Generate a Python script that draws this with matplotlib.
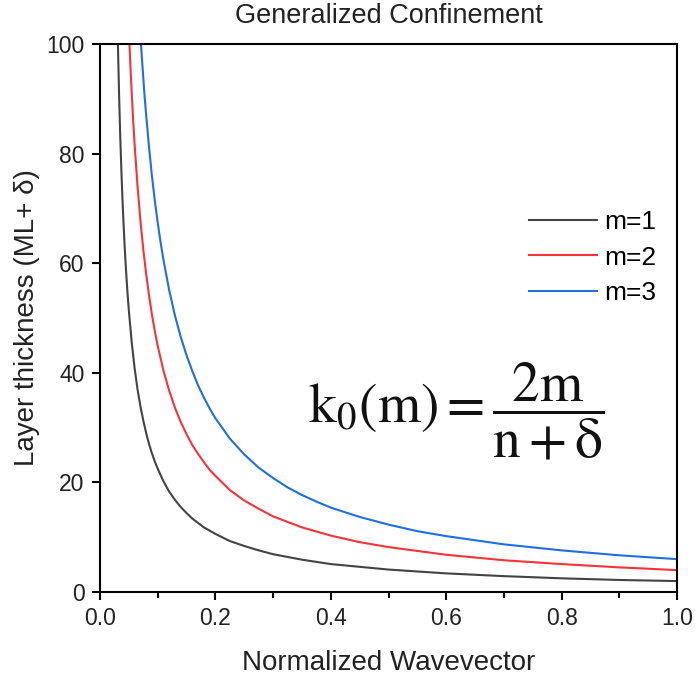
import matplotlib
matplotlib.use("Agg")
import matplotlib.pyplot as plt
from matplotlib.ticker import MultipleLocator, FormatStrFormatter

plt.rcParams["font.family"] = ["Liberation Sans", "DejaVu Sans"]
plt.rcParams["mathtext.fontset"] = "stix"

# values
k_m1 = [0.031, 0.033, 0.035, 0.0375, 0.04, 0.0425, 0.045, 0.0475, 0.05, 0.055, 0.06,
        0.065, 0.07, 0.075, 0.08, 0.085, 0.09, 0.095, 0.10, 0.11, 0.12, 0.13, 0.14,
        0.15, 0.16, 0.17, 0.18, 0.19, 0.20, 0.225, 0.25, 0.275, 0.30, 0.35, 0.40,
        0.45, 0.50, 0.60, 0.70, 0.80, 0.90, 1.00]
n_m1 = [100, 90.9, 83.3, 75.5, 69.0, 63.5, 58.8, 54.8, 51.3, 45.5, 40.8,
        37.0, 33.9, 31.3, 29.0, 27.0, 25.3, 23.8, 22.5, 20.2, 18.3, 16.8, 15.5,
        14.4, 13.4, 12.6, 11.8, 11.2, 10.6, 9.3, 8.4, 7.6, 6.9, 5.9, 5.1,
        4.6, 4.1, 3.4, 2.9, 2.5, 2.2, 2.0]

k_m2 = [0.05, 0.0525, 0.055, 0.0575, 0.06, 0.065, 0.07, 0.075, 0.08, 0.085, 0.09,
        0.095, 0.10, 0.11, 0.12, 0.13, 0.14, 0.15, 0.16, 0.17, 0.18, 0.19, 0.20,
        0.225, 0.25, 0.275, 0.30, 0.35, 0.40, 0.45, 0.50, 0.60, 0.70, 0.80, 0.90, 1.00]
n_m2 = [102.6, 96.4, 90.9, 86.0, 81.6, 74.1, 67.8, 62.5, 58.0, 54.1, 50.6,
        47.6, 44.9, 40.4, 36.7, 33.6, 31.0, 28.8, 26.8, 25.2, 23.7, 22.3, 21.2,
        18.6, 16.7, 15.2, 13.8, 11.8, 10.3, 9.1, 8.2, 6.8, 5.8, 5.1, 4.5, 4.0]

k_m3 = [0.07, 0.0725, 0.075, 0.0775, 0.08, 0.085, 0.09, 0.095, 0.10, 0.105, 0.11,
        0.12, 0.13, 0.14, 0.15, 0.16, 0.17, 0.18, 0.19, 0.20, 0.225, 0.25, 0.275,
        0.30, 0.325, 0.35, 0.375, 0.40, 0.45, 0.50, 0.55, 0.60, 0.70, 0.80, 0.90, 1.00]
n_m3 = [101.7, 97.6, 93.8, 90.2, 87.0, 81.1, 75.9, 71.4, 67.4, 63.8, 60.6,
        55.0, 50.4, 46.5, 43.2, 40.3, 37.7, 35.5, 33.5, 31.7, 28.0, 25.1, 22.7,
        20.8, 19.1, 17.7, 16.5, 15.4, 13.7, 12.3, 11.1, 10.2, 8.7, 7.6, 6.7, 6.0]

labels = ["m=1", "m=2", "m=3"]
colors = ["#444444", "#f5333a", "#1f6fe0"]

fig = plt.figure(figsize=(6.96, 6.83), dpi=100)
ax = fig.add_axes([0.1437, 0.1332, 0.829, 0.8024])

for kx, ny, lab, c in zip([k_m1, k_m2, k_m3], [n_m1, n_m2, n_m3], labels, colors):
    ax.plot(kx, ny, color=c, lw=1.5, label=lab)

ax.set_xlim(0, 1.0)
ax.set_ylim(0, 100)
ax.xaxis.set_major_locator(MultipleLocator(0.2))
ax.xaxis.set_minor_locator(MultipleLocator(0.1))
ax.yaxis.set_major_locator(MultipleLocator(20))
ax.xaxis.set_major_formatter(FormatStrFormatter("%.1f"))

for s in ax.spines.values():
    s.set_linewidth(1.5)
ax.tick_params(which="major", direction="out", length=6, width=1.5, labelsize=16.5,
               colors="black", labelcolor="#222222", pad=5)
ax.tick_params(which="minor", direction="out", length=4, width=1.5)

ax.set_xlabel("Normalized Wavevector", fontsize=20, color="#222222", labelpad=14)
ax.set_ylabel("Layer thickness (ML+ δ)", fontsize=20, color="#222222", labelpad=5)
ax.set_title("Generalized Confinement", fontsize=19.5, color="#222222", pad=15)

ax.legend(loc="upper right", bbox_to_anchor=(1.0, 0.735), frameon=False,
          fontsize=19, handlelength=2.55, handletextpad=0.27, labelspacing=0.43,
          borderpad=0.3)

ax.text(0.617, 0.330, r"$\mathrm{k_0(m)} = \dfrac{\mathrm{2m}}{\mathrm{n + δ}}$",
        transform=ax.transAxes, fontsize=40, ha="center", va="center", color="#111111")

fig.savefig("out.png", dpi=100)
